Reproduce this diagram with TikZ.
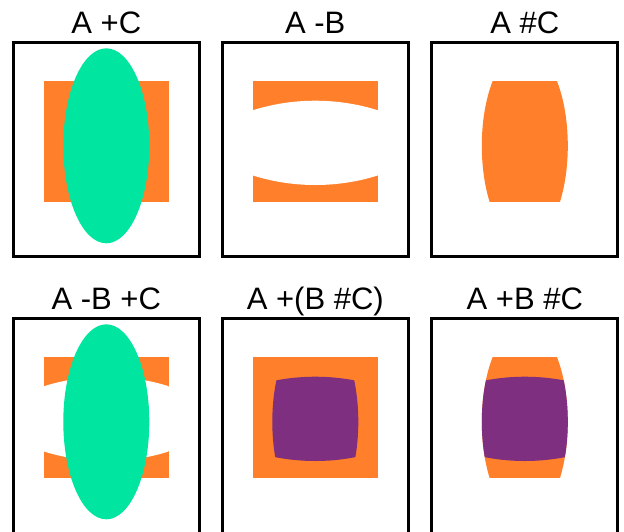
\documentclass[tikz,border=0pt]{standalone}
\usepackage{fontspec}
\setmainfont{Liberation Sans}
\definecolor{aor}{HTML}{FF7F2A}
\definecolor{cgr}{HTML}{00E6A0}
\definecolor{bpu}{HTML}{7F2F7F}
\tikzset{
  frame/.style={draw=black, line width=2.7pt},
  title/.style={anchor=base, font=\fontsize{31}{36}\selectfont, inner sep=0pt},
}
\def\Arect{(-62.5,80.7) rectangle (62.5,202)}
\def\Cell{(0,145.8) ellipse [x radius=43pt, y radius=97.5pt]}
\def\Bone{(0,308.7) circle [radius=208pt]}
\def\Btwo{(0,-23) circle [radius=208pt]}
\def\Frame{(-93,42.7) rectangle (93,256.3)}
\def\FrameLow{(-93,42.7) rectangle (93,262)}
\begin{document}
\begin{tikzpicture}[x=1pt,y=-1pt]
\useasboundingbox (0,0) rectangle (624,531);
\clip (0,0) rectangle (624,531);
% Panel 1: A +C
\begin{scope}[shift={(106.3,0)}]
  \node[title] (t1) at (0,33.3) {A +C};
  \fill[aor] \Arect;
  \fill[cgr] \Cell;
  \draw[frame] \Frame;
\end{scope}
% Panel 2: A -B
\begin{scope}[shift={(315.3,0)}]
  \node[title] (t2) at (0,33.3) {A -B};
  \fill[aor] \Arect;
  \begin{scope}
    \clip \Bone; \clip \Btwo;
    \fill[white] \Arect;
  \end{scope}
  \draw[frame] \Frame;
\end{scope}
% Panel 3: A #C
\begin{scope}[shift={(524.8,0)}]
  \node[title] (t3) at (0,33.3) {A \#C};
  \begin{scope}
    \clip \Cell;
    \fill[aor] \Arect;
  \end{scope}
  \draw[frame] \Frame;
\end{scope}
% Panel 4: A -B +C
\begin{scope}[shift={(106.3,276)}]
  \node[title] (t4) at (0,33.3) {A -B +C};
  \fill[aor] \Arect;
  \begin{scope}
    \clip \Bone; \clip \Btwo;
    \fill[white] \Arect;
  \end{scope}
  \fill[cgr] \Cell;
  \draw[frame] \FrameLow;
\end{scope}
% Panel 5: A +(B #C)
\begin{scope}[shift={(315.3,276)}]
  \node[title] (t5) at (0,33.3) {A +(B \#C)};
  \fill[aor] \Arect;
  \begin{scope}
    \clip \Cell; \clip \Bone; \clip \Btwo;
    \fill[bpu] (-100,0) rectangle (100,300);
  \end{scope}
  \draw[frame] \FrameLow;
\end{scope}
% Panel 6: A +B #C
\begin{scope}[shift={(524.8,276)}]
  \node[title] (t6) at (0,33.3) {A +B \#C};
  \begin{scope}
    \clip \Cell;
    \fill[aor] \Arect;
    \clip \Bone; \clip \Btwo;
    \fill[bpu] (-100,0) rectangle (100,300);
  \end{scope}
  \draw[frame] \FrameLow;
\end{scope}
\end{tikzpicture}
\end{document}
